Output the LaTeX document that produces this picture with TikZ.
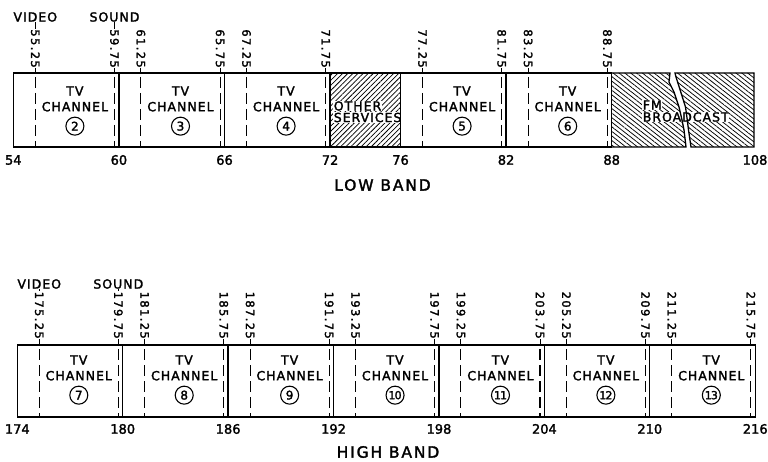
\documentclass[tikz,border=0pt]{standalone}
\usepackage{fontspec}
\setmainfont{DejaVu Sans}[UprightFeatures={FakeBold=2}]
\usetikzlibrary{positioning,patterns.meta}

\tikzset{
  band/.style={line width=1.3pt},
  tick/.style={line width=1pt},
  carrier/.style={line width=1.1pt,dash pattern=on 11pt off 5pt,dash phase=12pt},
  freqlabel/.style={rotate=-90,anchor=east,inner sep=0pt,font=\fontsize{11.5}{12}\selectfont\addfontfeature{LetterSpace=12}},
  edgelabel/.style={inner sep=0pt,font=\fontsize{13}{14}\selectfont},
  chanlabel/.style={inner sep=0pt,font=\fontsize{12.5}{12}\selectfont\addfontfeature{LetterSpace=8}},
  knockout/.style={chanlabel,anchor=west,fill=white,inner sep=0.6pt},
  chancircle/.style={circle,draw,line width=1.1pt,minimum size=18pt,inner sep=0pt,font=\fontsize{12}{12}\selectfont},
  twodigit/.style={font=\fontsize{11}{11}\selectfont\addfontfeature{LetterSpace=-8}},
  bandtitle/.style={inner sep=0pt,font=\fontsize{15.5}{16}\selectfont\addfontfeature{LetterSpace=12}},
  hatchfm/.style={pattern={Lines[angle=-38,distance=3.6pt,line width=0.75pt]}},
  hatchother/.style={pattern={Lines[angle=45,distance=3.6pt,line width=0.75pt]}},
}

\begin{document}
\begin{tikzpicture}[x=1pt,y=-1pt,
  declare function={lox(\a)=13.3+(\a-54)*17.6; hix(\a)=17.3+(\a-174)*17.57;}]
  \useasboundingbox (0,0) rectangle (768,462);

  % low band: hatched parts
  \path[hatchother] ({lox(72)},73) rectangle ({lox(76)},147);
  \path[hatchfm] ({lox(88)},73) -- (670,73) -- (669,82) -- (674,92) -- (679,107) -- (682,120) -- (684,130) -- (686,147) -- ({lox(88)},147) -- cycle;
  \path[hatchfm] (675,73) -- (754,73) -- (754,147) -- (691,147) -- (688.5,130) -- (687,118) -- (685.5,107) -- (679.5,88) -- (676,77) -- cycle;
  \node[knockout] (other) at (333,106) {OTHER};
  \node[knockout] (services) at (333,117.5) {SERVICES};
  \node[knockout] (fm) at (642,105) {FM};
  \node[knockout] (broadcast) at (642,117) {BROADCAST};

  % low band: outlines
  \draw[band] ({lox(54)},73) rectangle ({lox(88)},147);
  \foreach \f in {60,66,72,76,82}
    \draw[band] ({lox(\f)},73) -- ({lox(\f)},147);
  \draw[band] ({lox(88)},73) -- (670,73) -- (669,82) -- (674,92) -- (679,107) -- (682,120) -- (684,130) -- (686,147) -- ({lox(88)},147);
  \draw[band] (675,73) -- (754,73) -- (754,147) -- (691,147) -- (688.5,130) -- (687,118) -- (685.5,107) -- (679.5,88) -- (676,77) -- cycle;

  % low band channels
  \foreach \a/\n in {54/2,60/3,66/4,76/5,82/6}{
    \node[chanlabel] (tv\n) at ({lox(\a+3.5)},91) {TV};
    \node[chanlabel,below=6pt of tv\n] (ch\n) {CHANNEL};
    \node[chancircle,below=5pt of ch\n] (c\n) {\n};
  }

  % low band carriers
  \foreach \f/\lab [count=\i] in {55.25/55.25,59.75/59.75,61.25/61.25,65.75/65.75,67.25/67.25,71.75/71.75,77.25/77.25,81.75/81.75,83.25/83.25,87.75/88.75}{
    \coordinate (lt\i) at ({lox(\f)},73);
    \coordinate (lb\i) at ({lox(\f)},147);
    \node[freqlabel] (lf\i) at ({lox(\f)},68) {\lab};
    \draw[tick] (lf\i.east) -- (lt\i);
    \draw[carrier] (lt\i) -- (lb\i);
  }
  \node[chanlabel] (lvideo) at ({lox(55.25)},17) {VIDEO};
  \node[chanlabel] (lsound) at ({lox(59.75)},17) {SOUND};
  \draw[tick] (lvideo.south) -- (lf1.west);
  \draw[tick] (lsound.south) -- (lf2.west);

  \foreach \f in {54,60,66,72,76,82,88}
    \node[edgelabel] (ln\f) at ({lox(\f)},160) {\f};
  \node[edgelabel] (ln108) at (755,160) {108};
  \node[bandtitle] (lowband) at (382.5,185) {LOW BAND};

  % high band: outlines
  \draw[band] ({hix(174)},345) rectangle ({hix(216)},417);
  \foreach \f in {180,186,...,210}
    \draw[band] ({hix(\f)},345) -- ({hix(\f)},417);

  % high band channels
  \foreach \a/\n in {174/7,180/8,186/9}{
    \node[chanlabel] (tv\n) at ({hix(\a+3.5)},360) {TV};
    \node[chanlabel,below=6pt of tv\n] (ch\n) {CHANNEL};
    \node[chancircle,below=5pt of ch\n] (c\n) {\n};
  }
  \foreach \a/\n in {192/10,198/11,204/12,210/13}{
    \node[chanlabel] (tv\n) at ({hix(\a+3.5)},360) {TV};
    \node[chanlabel,below=6pt of tv\n] (ch\n) {CHANNEL};
    \node[chancircle,twodigit,below=5pt of ch\n] (c\n) {\n};
  }

  % high band carriers
  \foreach \f [count=\i] in {175.25,179.75,181.25,185.75,187.25,191.75,193.25,197.75,199.25,203.75,205.25,209.75,211.25,215.75}{
    \coordinate (ht\i) at ({hix(\f)},345);
    \coordinate (hb\i) at ({hix(\f)},417);
    \node[freqlabel] (hf\i) at ({hix(\f)},339) {\f};
    \draw[tick] (hf\i.east) -- (ht\i);
    \draw[carrier] (ht\i) -- (hb\i);
  }
  \node[chanlabel] (hvideo) at ({hix(175.25)},284) {VIDEO};
  \node[chanlabel] (hsound) at ({hix(179.75)},284) {SOUND};
  \draw[tick] (hvideo.south) -- (hf1.west);
  \draw[tick] (hsound.south) -- (hf2.west);

  \foreach \f in {174,180,...,216}
    \node[edgelabel] (hn\f) at ({hix(\f)},429) {\f};
  \node[bandtitle] (highband) at (388,452) {HIGH BAND};
\end{tikzpicture}
\end{document}
